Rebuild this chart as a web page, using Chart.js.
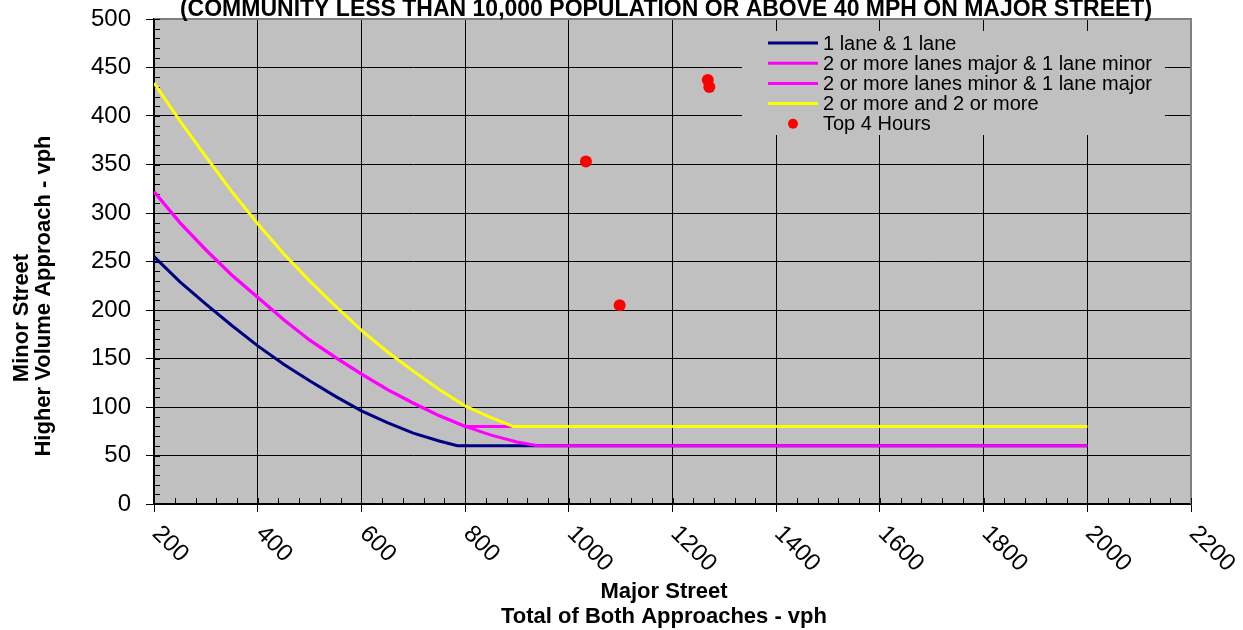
<!DOCTYPE html>
<html>
<head>
<meta charset="utf-8">
<script src="https://cdn.jsdelivr.net/npm/chart.js@4.4.1/dist/chart.umd.min.js"></script>
<style>
  html, body { margin: 0; padding: 0; background: #fff; }
</style>
</head>
<body>
<canvas id="grafica" width="1243" height="630"></canvas>
<script>
// values
const titulo = '(COMMUNITY LESS THAN 10,000 POPULATION OR ABOVE 40 MPH ON MAJOR STREET)';
const tituloX = ['Major Street', 'Total of Both Approaches - vph'];
const tituloY = ['Minor Street', 'Higher Volume Approach - vph'];

const xTicks = [200, 400, 600, 800, 1000, 1200, 1400, 1600, 1800, 2000, 2200];
const yTicks = [0, 50, 100, 150, 200, 250, 300, 350, 400, 450, 500];

const unoX = [200, 250, 300, 350, 400, 450, 500, 550, 600, 650, 700, 750, 785, 2000];
const unoY = [255, 229, 206, 184, 163, 144, 127, 111, 96, 84, 73, 65, 60, 60];

const mayorX = [200, 250, 300, 350, 400, 450, 500, 550, 600, 650, 700, 750, 800, 850, 900, 940, 2000];
const mayorY = [322, 290, 262, 236, 213, 190, 169, 151, 134, 118, 104, 91, 80, 71, 64, 60, 60];

const menorX = [200, 250, 300, 350, 400, 450, 500, 550, 600, 650, 700, 750, 800, 2000];
const menorY = [322, 290, 262, 236, 213, 190, 169, 151, 134, 118, 104, 91, 80, 80];

const dosX = [200, 250, 300, 350, 400, 450, 500, 550, 600, 650, 700, 750, 800, 850, 892, 2000];
const dosY = [434, 395, 358, 322, 289, 258, 230, 204, 179, 157, 137, 118, 101, 89, 80, 80];

const horasX = [1268, 1271, 1033, 1098];
const horasY = [437, 430, 353, 205];

const etiquetas = [
  '1 lane & 1 lane',
  '2 or more lanes major & 1 lane minor',
  '2 or more lanes minor & 1 lane major',
  '2 or more and 2 or more',
  'Top 4 Hours'
];

const FONT = '"Liberation Sans", Arial, sans-serif';
const pares = (xs, ys) => xs.map((x, i) => ({ x: x, y: ys[i] }));

// lower "order" is painted on top
const linea = (label, xs, ys, color, orden) => ({
  label: label,
  data: pares(xs, ys),
  borderColor: color,
  backgroundColor: color,
  borderWidth: 3,
  pointRadius: 0,
  tension: 0,
  fill: false,
  order: orden
});

const decor = {
  id: 'decor',
  beforeDraw(chart) {
    const { ctx, chartArea: a } = chart;
    ctx.save();
    ctx.fillStyle = '#c0c0c0';
    ctx.fillRect(a.left, a.top, a.right - a.left, a.bottom - a.top);
    ctx.restore();
  },
  beforeDatasetsDraw(chart) {
    const { ctx, chartArea: a, scales: { x, y } } = chart;
    ctx.save();
    // gray frame top and right
    ctx.strokeStyle = '#808080';
    ctx.lineWidth = 2;
    ctx.beginPath();
    ctx.moveTo(a.left, a.top);
    ctx.lineTo(a.right, a.top);
    ctx.lineTo(a.right, a.bottom);
    ctx.stroke();
    // minor ticks, pointing inward
    ctx.strokeStyle = '#000';
    ctx.lineWidth = 1;
    ctx.beginPath();
    for (let v = x.min; v <= x.max; v += 40) {
      const px = Math.round(x.getPixelForValue(v)) + 0.5;
      ctx.moveTo(px, a.bottom);
      ctx.lineTo(px, a.bottom - 6);
    }
    for (let v = y.min; v <= y.max; v += 10) {
      const py = Math.round(y.getPixelForValue(v)) + 0.5;
      ctx.moveTo(a.left, py);
      ctx.lineTo(a.left + 6, py);
    }
    ctx.stroke();
    ctx.restore();
  },
  afterDraw(chart) {
    const { ctx, chartArea: a, scales: { x } } = chart;
    ctx.save();
    ctx.fillStyle = '#000';

    // title (top line is cut by the canvas edge)
    ctx.font = 'bold 23px ' + FONT;
    ctx.textAlign = 'center';
    ctx.textBaseline = 'alphabetic';
    ctx.fillText(titulo, 666, 15.5);

    // rotated x tick labels
    ctx.font = '24px ' + FONT;
    ctx.textAlign = 'left';
    ctx.textBaseline = 'middle';
    x.ticks.forEach(t => {
      const px = x.getPixelForValue(t.value);
      ctx.save();
      ctx.translate(px + 2, a.bottom + 26);
      ctx.rotate(Math.PI / 4);
      ctx.fillText(String(t.value), 0, 0);
      ctx.restore();
    });

    // axis titles
    ctx.font = 'bold 22px ' + FONT;
    ctx.textAlign = 'center';
    ctx.fillText(tituloX[0], 664, 592);
    ctx.fillText(tituloX[1], 664, 617);
    ctx.save();
    ctx.translate(22, 318);
    ctx.rotate(-Math.PI / 2);
    ctx.fillText(tituloY[0], 0, 0);
    ctx.restore();
    ctx.save();
    ctx.translate(44, 296);
    ctx.rotate(-Math.PI / 2);
    ctx.fillText(tituloY[1], 0, 0);
    ctx.restore();

    // legend box inside the plot
    ctx.fillStyle = '#c0c0c0';
    ctx.fillRect(742, 31, 423, 104);
    ctx.font = '20px ' + FONT;
    ctx.textAlign = 'left';
    ctx.textBaseline = 'middle';
    chart.data.datasets.forEach((ds, i) => {
      const cy = 43 + i * 20.2;
      if (ds.showLine === false) {
        ctx.fillStyle = ds.backgroundColor;
        ctx.beginPath();
        ctx.arc(793, cy, 5, 0, Math.PI * 2);
        ctx.fill();
      } else {
        ctx.strokeStyle = ds.borderColor;
        ctx.lineWidth = 3;
        ctx.beginPath();
        ctx.moveTo(768, cy);
        ctx.lineTo(818, cy);
        ctx.stroke();
      }
      ctx.fillStyle = '#000';
      ctx.fillText(ds.label, 823, cy + 1);
    });
    ctx.restore();
  }
};

const ctx = document.getElementById('grafica').getContext('2d');
const grafica = new Chart(ctx, {
  type: 'line',
  data: {
    datasets: [
      linea(etiquetas[0], unoX, unoY, '#000080', 5),
      linea(etiquetas[1], mayorX, mayorY, '#ff00ff', 4),
      linea(etiquetas[2], menorX, menorY, '#ff00ff', 3),
      linea(etiquetas[3], dosX, dosY, '#ffff00', 2),
      {
        label: etiquetas[4],
        data: pares(horasX, horasY),
        showLine: false,
        pointRadius: 6,
        pointHoverRadius: 6,
        pointBorderWidth: 0,
        backgroundColor: '#ff0000',
        borderColor: '#ff0000',
        order: 1
      }
    ]
  },
  options: {
    responsive: false,
    animation: false,
    layout: { autoPadding: false, padding: { left: 76, right: 52, top: 19, bottom: 118 } },
    plugins: {
      legend: { display: false },
      tooltip: { enabled: false }
    },
    scales: {
      x: {
        type: 'linear',
        min: 200,
        max: 2200,
        afterBuildTicks: s => { s.ticks = xTicks.map(v => ({ value: v })); },
        ticks: { display: false },
        grid: {
          color: c => (c.tick && c.tick.value === 2200 ? '#808080' : '#000'),
          lineWidth: 1,
          tickLength: 8,
          tickColor: '#000'
        },
        border: { color: '#000', width: 1.5 }
      },
      y: {
        min: 0,
        max: 500,
        afterBuildTicks: s => { s.ticks = yTicks.map(v => ({ value: v })); },
        afterFit: s => { s.paddingTop = 0; s.paddingBottom = 0; },
        ticks: {
          color: '#000',
          padding: 15,
          font: { family: FONT, size: 24 }
        },
        grid: {
          color: c => (c.tick && c.tick.value === 500 ? '#808080' : '#000'),
          lineWidth: 1,
          tickLength: 8,
          tickColor: '#000'
        },
        border: { color: '#000', width: 1.5 }
      }
    }
  },
  plugins: [decor]
});
</script>
</body>
</html>
